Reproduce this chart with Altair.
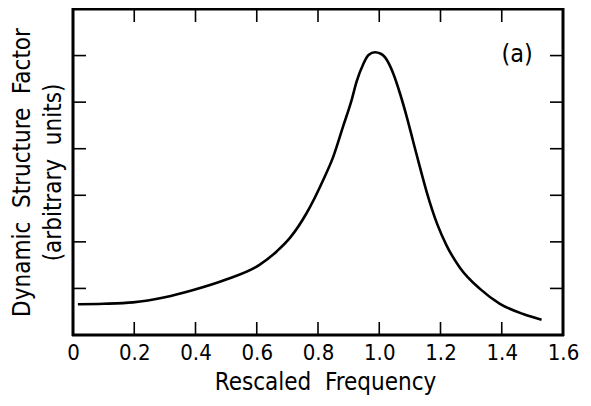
import altair as alt
import pandas as pd

# Curve
freq = [0.016, 0.10, 0.196, 0.30, 0.39, 0.50, 0.61, 0.666, 0.709, 0.763, 0.817, 0.850,
        0.883, 0.910, 0.926, 0.948, 0.965, 0.986, 1.005, 1.019, 1.046, 1.068, 1.090,
        1.111, 1.133, 1.155, 1.19, 1.22, 1.264, 1.329, 1.394, 1.470, 1.530]
sfac = [0.66, 0.67, 0.70, 0.81, 0.96, 1.19, 1.51, 1.80, 2.09, 2.62, 3.33, 3.83,
        4.50, 5.05, 5.44, 5.82, 6.01, 6.07, 6.04, 5.96, 5.61, 5.18, 4.68,
        4.15, 3.60, 3.07, 2.37, 1.92, 1.44, 0.99, 0.67, 0.45, 0.33]

x_label_values = [0, 0.2, 0.4, 0.6, 0.8, 1.0, 1.2, 1.4, 1.6]
x_inner_ticks = [0.2, 0.4, 0.6, 0.8, 1.0, 1.2, 1.4]
y_inner_ticks = [1, 2, 3, 4, 5, 6]
x_frame = [0, 1.6]
y_frame = [0, 7]
panel_label = "(a)"
panel_x = 1.45
panel_y = 6.03

SP = "\u00a0\u00a0"
x_title = "Rescaled" + SP + "Frequency"
y_title = ["Dynamic" + SP + "Structure" + SP + "Factor", "(arbitrary" + SP + "units)"]

W, H = 490, 326
TICK = 13
FONT = "DejaVu Sans Condensed"

curve_df = pd.DataFrame({"f": freq, "s": sfac})
xt_df = pd.DataFrame({"f": x_inner_ticks})
yt_df = pd.DataFrame({"s": y_inner_ticks})
xf_df = pd.DataFrame({"f": x_frame})
yf_df = pd.DataFrame({"s": y_frame})
lab_df = pd.DataFrame({"f": [panel_x], "s": [panel_y], "t": [panel_label]})

xscale = alt.Scale(domain=[0, 1.6], nice=False, zero=False)
yscale = alt.Scale(domain=[0, 7], nice=False, zero=False)

line = alt.Chart(curve_df).mark_line(
    color="black", strokeWidth=2.6, interpolate="monotone"
).encode(
    x=alt.X("f:Q", scale=xscale, title=x_title,
            axis=alt.Axis(values=x_label_values, ticks=False, domain=False, grid=False,
                          labelExpr="datum.value == 0 ? '0' : format(datum.value, '.1f')",
                          labelFont=FONT, labelFontSize=22, labelColor="black",
                          labelPadding=7, labelFlush=False,
                          titleFont=FONT, titleFontSize=24, titleFontWeight="normal",
                          titleColor="black", titlePadding=7, titleX=252)),
    y=alt.Y("s:Q", scale=yscale, title=y_title,
            axis=alt.Axis(labels=False, ticks=False, domain=False, grid=False,
                          titleFont=FONT, titleFontSize=24, titleFontWeight="normal",
                          titleColor="black", titlePadding=8, titleLineHeight=31)),
)

# frame: vertical sides at x = 0 and 1.6, horizontal sides at y = 0 and 7
frame_v = alt.Chart(xf_df).mark_rule(color="#000000", strokeWidth=3, opacity=1).encode(
    x=alt.X("f:Q", scale=xscale), y=alt.value(-1), y2=alt.value(H + 1))
frame_h = alt.Chart(yf_df).mark_rule(color="#000000", strokeWidth=3, opacity=1).encode(
    y=alt.Y("s:Q", scale=yscale), x=alt.value(-1), x2=alt.value(W + 1))

bottom_ticks = alt.Chart(xt_df).mark_rule(color="black", strokeWidth=1.6).encode(
    x=alt.X("f:Q", scale=xscale),
    y=alt.value(H), y2=alt.value(H - TICK))
top_ticks = alt.Chart(xt_df).mark_rule(color="black", strokeWidth=1.6).encode(
    x=alt.X("f:Q", scale=xscale),
    y=alt.value(0), y2=alt.value(TICK))
left_ticks = alt.Chart(yt_df).mark_rule(color="black", strokeWidth=1.6).encode(
    y=alt.Y("s:Q", scale=yscale),
    x=alt.value(0), x2=alt.value(TICK))
right_ticks = alt.Chart(yt_df).mark_rule(color="black", strokeWidth=1.6).encode(
    y=alt.Y("s:Q", scale=yscale),
    x=alt.value(W - TICK), x2=alt.value(W))

label = alt.Chart(lab_df).mark_text(
    font=FONT, fontSize=25, color="black", fontWeight="normal"
).encode(
    x=alt.X("f:Q", scale=xscale),
    y=alt.Y("s:Q", scale=yscale),
    text="t:N")

chart = alt.layer(line, bottom_ticks, top_ticks, left_ticks,
                  right_ticks, label, frame_v, frame_h).properties(
    width=W, height=H,
    autosize=alt.AutoSizeParams(type="none"),
    padding={"left": 65, "top": 1, "right": 20, "bottom": 63},
).configure(
    background="white",
    view=alt.ViewConfig(stroke="transparent", strokeWidth=0),
)

chart.save("out.html", embed_options={"renderer": "svg", "actions": False})
